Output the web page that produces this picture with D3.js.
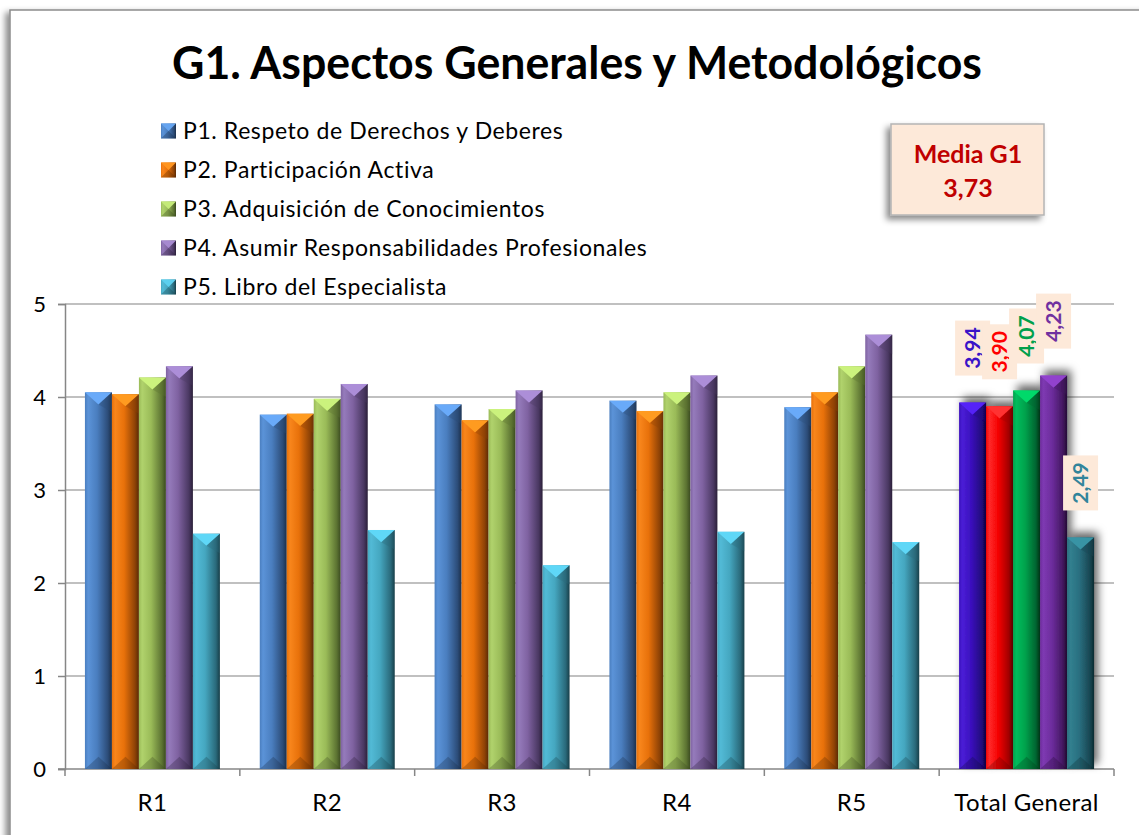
<!DOCTYPE html>
<html>
<head>
<meta charset="utf-8">
<script src="https://cdn.jsdelivr.net/npm/d3@7"></script>
<style>
  body { margin: 0; background: #fff; overflow: hidden; }
  svg { display: block; font-family: Lato, "Open Sans", sans-serif; }
</style>
</head>
<body>
<div id="chart"></div>
<script>
// ---- data ----
var categories = ['R1', 'R2', 'R3', 'R4', 'R5', 'Total General'];
var seriesNames = [
    'P1. Respeto de Derechos y Deberes',
    'P2. Participación Activa',
    'P3. Adquisición de Conocimientos',
    'P4. Asumir Responsabilidades Profesionales',
    'P5. Libro del Especialista'
];
var p1 = [4.05, 3.81, 3.92, 3.96, 3.89, 3.94];
var p2 = [4.03, 3.82, 3.75, 3.85, 4.05, 3.90];
var p3 = [4.21, 3.98, 3.87, 4.05, 4.33, 4.07];
var p4 = [4.33, 4.14, 4.07, 4.23, 4.67, 4.23];
var p5 = [2.53, 2.57, 2.19, 2.55, 2.44, 2.49];
var yTicks = [0, 1, 2, 3, 4, 5];
var mediaLabel = 'Media G1';
var mediaValue = 3.73;
var title = 'G1. Aspectos Generales y Metodológicos';

var seriesValues = [p1, p2, p3, p4, p5];

// [light, base, dark, edge]
var seriesColors = [
    ['#5b93d8', '#4a7ebf', '#2c4c78', '#1b2f4a'],
    ['#f8861c', '#e8710a', '#8f4306', '#5a2a04'],
    ['#b0d26c', '#9abb58', '#5c7332', '#3a4a20'],
    ['#957bbb', '#7f62a1', '#4a3862', '#2a1f38'],
    ['#52bad6', '#45a7c0', '#2a6a7b', '#173e48']
];
var totalColors = [
    ['#4a1ed6', '#3a10bd', '#22087a', '#12043f'],
    ['#ff2a2a', '#f50000', '#a00000', '#600000'],
    ['#00bc5c', '#00a24c', '#006430', '#003a1a'],
    ['#7e3ab2', '#6c2c9c', '#42185f', '#240b35'],
    ['#31808f', '#2a6f80', '#184652', '#0c2a30']
];
var totalLabelColors = ['#3a13c8', '#ff0000', '#00a04c', '#7030a0', '#31849b'];

var locale = d3.formatLocale({ decimal: ',', thousands: '.', grouping: [3], currency: ['', ' €'] });
var fmt = locale.format('.2f');

var width = 1139, height = 835;

var svg = d3.select('#chart').append('svg')
    .attr('width', width)
    .attr('height', height);

var defs = svg.append('defs');

var shadow = function (id, dx, dy, sd, op) {
    defs.append('filter')
        .attr('id', id)
        .attr('x', '-50%').attr('y', '-50%')
        .attr('width', '200%').attr('height', '200%')
        .append('feDropShadow')
        .attr('dx', dx).attr('dy', dy)
        .attr('stdDeviation', sd)
        .attr('flood-color', '#000')
        .attr('flood-opacity', op);
};
shadow('frameShadow', -4, 3, 3, 0.45);
shadow('boxShadow', -4, 4, 3, 0.45);
shadow('barShadow', 4, -5, 4, 0.6);

var gradient = function (id, c) {
    var gr = defs.append('linearGradient')
        .attr('id', id)
        .attr('x1', 0).attr('x2', 1).attr('y1', 0).attr('y2', 0);
    gr.append('stop').attr('offset', '0%').attr('stop-color', c[1]);
    gr.append('stop').attr('offset', '12%').attr('stop-color', c[0]);
    gr.append('stop').attr('offset', '45%').attr('stop-color', c[1]);
    gr.append('stop').attr('offset', '85%').attr('stop-color', c[2]);
    gr.append('stop').attr('offset', '100%').attr('stop-color', c[3]);
};
seriesColors.forEach(function (c, i) { gradient('s' + i, c); });
totalColors.forEach(function (c, i) { gradient('t' + i, c); });

// chart frame
svg.append('rect')
    .attr('x', 10).attr('y', 10)
    .attr('width', 1200).attr('height', 900)
    .attr('fill', '#fff')
    .attr('stroke', '#8c8c8c')
    .attr('stroke-width', 1.5)
    .attr('filter', 'url(#frameShadow)');

// title
svg.append('text')
    .attr('x', 577).attr('y', 79)
    .attr('text-anchor', 'middle')
    .attr('font-weight', 'bold')
    .attr('font-size', 45)
    .attr('fill', '#000')
    .attr('textLength', 810)
    .attr('lengthAdjust', 'spacingAndGlyphs')
    .text(title);

// scales
var plotLeft = 65, plotRight = 1114, plotTop = 304, plotBottom = 769;

var x = d3.scaleBand()
    .domain(categories)
    .range([plotLeft, plotRight])
    .paddingInner(0.228)
    .paddingOuter(0.114);

var x1 = d3.scaleBand()
    .domain(d3.range(seriesNames.length))
    .range([0, x.bandwidth()]);

var y = d3.scaleLinear()
    .domain([0, 5])
    .range([plotBottom, plotTop]);

// gridlines
svg.append('g')
    .selectAll('line')
    .data(yTicks.filter(function (d) { return d > 0; }))
    .enter()
    .append('line')
    .attr('x1', plotLeft).attr('x2', plotRight)
    .attr('y1', function (d) { return y(d); })
    .attr('y2', function (d) { return y(d); })
    .attr('stroke', '#c0c0c0')
    .attr('stroke-width', 2);

// y axis
var yAxis = svg.append('g')
    .attr('transform', 'translate(' + plotLeft + ',0)')
    .call(d3.axisLeft(y).tickValues(yTicks).tickSize(7).tickPadding(12).tickFormat(d3.format('d')));
yAxis.select('.domain').attr('stroke', '#868686').attr('stroke-width', 1.5);
yAxis.selectAll('.tick line').attr('stroke', '#868686').attr('stroke-width', 1.5);
yAxis.selectAll('.tick text')
    .attr('font-size', 22)
    .attr('font-family', 'Lato, sans-serif')
    .attr('fill', '#000');

// x axis
var step = x.step();
var boundaries = d3.range(categories.length + 1).map(function (i) {
    return x(categories[0]) - step * x.paddingInner() / 2 + i * step;
});
var xAxis = svg.append('g');
xAxis.append('line')
    .attr('x1', plotLeft - 7).attr('x2', plotRight)
    .attr('y1', plotBottom).attr('y2', plotBottom)
    .attr('stroke', '#868686').attr('stroke-width', 1.5);
xAxis.selectAll('line.tk')
    .data(boundaries)
    .enter()
    .append('line')
    .attr('class', 'tk')
    .attr('x1', function (d) { return d; }).attr('x2', function (d) { return d; })
    .attr('y1', plotBottom).attr('y2', plotBottom + 7)
    .attr('stroke', '#868686').attr('stroke-width', 1.5);
xAxis.selectAll('text')
    .data(categories)
    .enter()
    .append('text')
    .attr('x', function (d) { return x(d) + x.bandwidth() / 2; })
    .attr('y', 811)
    .attr('text-anchor', 'middle')
    .attr('font-size', 24)
    .attr('letter-spacing', 0.4)
    .attr('fill', '#000')
    .text(function (d) { return d; });

// bars
var bars = [];
seriesValues.forEach(function (vals, i) {
    vals.forEach(function (v, j) {
        bars.push({ s: i, cat: categories[j], value: v, total: categories[j] === 'Total General' });
    });
});

var barG = svg.append('g');

var drawBevelBar = function (g, bx, top, w, bottom, cols, gradId) {
    var bd = Math.min(w * 0.45, (bottom - top) / 2);
    g.append('rect')
        .attr('x', bx).attr('y', top)
        .attr('width', w).attr('height', bottom - top)
        .attr('fill', 'url(#' + gradId + ')');
    g.append('polygon')
        .attr('points', [[bx, top], [bx + w, top], [bx + w / 2, top + bd]].join(' '))
        .attr('fill', d3.color(cols[0]).brighter(0.4));
    g.append('polygon')
        .attr('points', [[bx + w / 2, top + bd], [bx + w, top], [bx + w, top + bd * 1.6]].join(' '))
        .attr('fill', cols[2]).attr('opacity', 0.35);
    g.append('polygon')
        .attr('points', [[bx, bottom], [bx + w, bottom], [bx + w / 2, bottom - bd]].join(' '))
        .attr('fill', cols[3]).attr('opacity', 0.3);
};

bars.forEach(function (d) {
    var g = barG.append('g');
    if (d.total) g.attr('filter', 'url(#barShadow)');
    var cols = d.total ? totalColors[d.s] : seriesColors[d.s];
    var gid = (d.total ? 't' : 's') + d.s;
    drawBevelBar(g, x(d.cat) + x1(d.s), y(d.value), x1.bandwidth(), y(0), cols, gid);
});

// data labels on the total group
var labelG = svg.append('g');
bars.filter(function (d) { return d.total; }).forEach(function (d) {
    var cx = x(d.cat) + x1(d.s) + x1.bandwidth() / 2;
    var boxW = 35, boxH = 55;
    var bottom = y(d.value) - 27;
    var g = labelG.append('g');
    g.append('rect')
        .attr('x', cx - boxW / 2).attr('y', bottom - boxH)
        .attr('width', boxW).attr('height', boxH)
        .attr('fill', '#fde9d9');
    g.append('text')
        .attr('transform', 'translate(' + (cx + 7.5) + ',' + (bottom - boxH / 2) + ') rotate(-90)')
        .attr('text-anchor', 'middle')
        .attr('font-weight', 'bold')
        .attr('font-size', 21)
        .attr('fill', totalLabelColors[d.s])
        .text(fmt(d.value));
});

// legend
var legend = svg.append('g');
seriesNames.forEach(function (name, i) {
    var ly = 131 + i * 39;
    var g = legend.append('g');
    var sz = 15;
    var cols = seriesColors[i];
    g.append('rect')
        .attr('x', 161).attr('y', ly - sz / 2)
        .attr('width', sz).attr('height', sz)
        .attr('fill', 'url(#s' + i + ')');
    g.append('polygon')
        .attr('points', [[161, ly - sz / 2], [161 + sz, ly - sz / 2], [161 + sz / 2, ly]].join(' '))
        .attr('fill', d3.color(cols[0]).brighter(0.3));
    g.append('polygon')
        .attr('points', [[161, ly + sz / 2], [161 + sz, ly + sz / 2], [161 + sz / 2, ly]].join(' '))
        .attr('fill', cols[3]).attr('opacity', 0.35);
    g.append('text')
        .attr('x', 183).attr('y', ly + 8)
        .attr('font-size', 23)
        .attr('fill', '#000')
        .attr('letter-spacing', 0.6)
        .text(name);
});

// media box
var mb = svg.append('g');
mb.append('rect')
    .attr('x', 891).attr('y', 124)
    .attr('width', 153).attr('height', 91)
    .attr('fill', '#fde9d9')
    .attr('stroke', '#b4b4b4')
    .attr('stroke-width', 1.5)
    .attr('filter', 'url(#boxShadow)');
mb.append('text')
    .attr('x', 968).attr('y', 163)
    .attr('text-anchor', 'middle')
    .attr('font-weight', 'bold')
    .attr('font-size', 25)
    .attr('fill', '#c00000')
    .text(mediaLabel);
mb.append('text')
    .attr('x', 968).attr('y', 197)
    .attr('text-anchor', 'middle')
    .attr('font-weight', 'bold')
    .attr('font-size', 25)
    .attr('fill', '#c00000')
    .text(fmt(mediaValue));
</script>
</body>
</html>
